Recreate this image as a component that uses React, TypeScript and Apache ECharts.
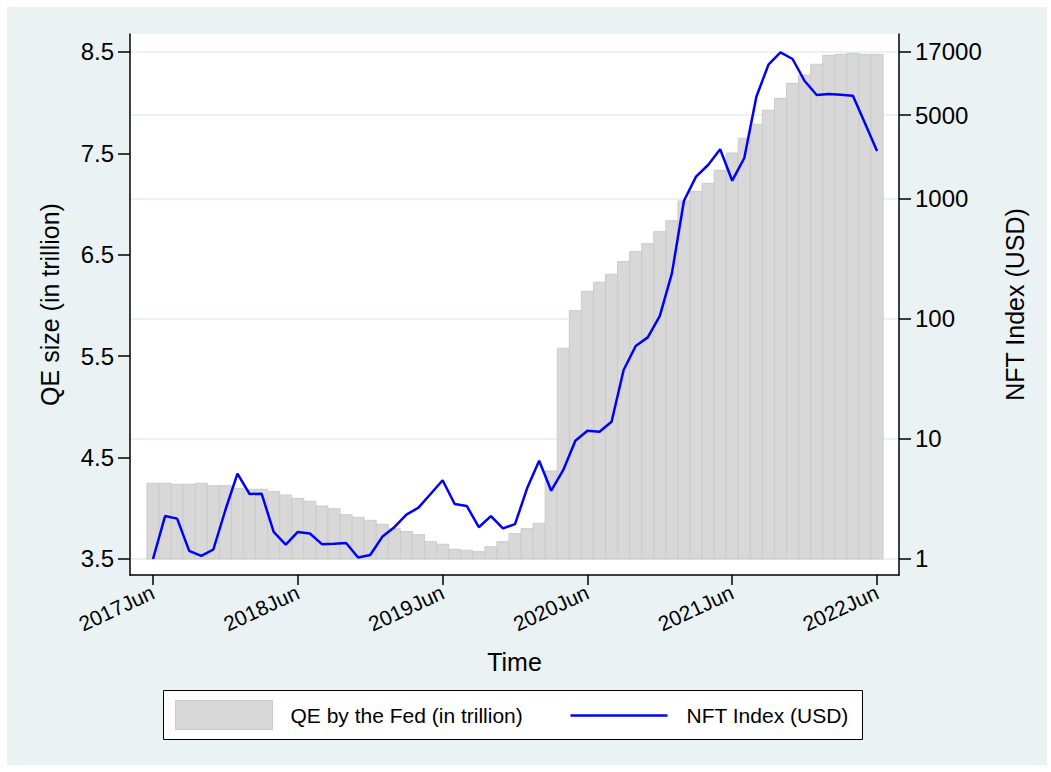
import React, { useEffect, useRef } from "react";
import * as echarts from "echarts";

// Monthly observations, June 2017 (index 0) through June 2022 (index 60)
const qeTrillion: number[] = [
  4.247, 4.247, 4.237, 4.237, 4.247, 4.223, 4.223, 4.197, 4.187, 4.187,
  4.164, 4.131, 4.098, 4.069, 4.023, 3.996, 3.937, 3.911, 3.881, 3.842,
  3.799, 3.770, 3.740, 3.671, 3.645, 3.596, 3.586, 3.572, 3.621, 3.671,
  3.750, 3.799, 3.852, 4.368, 5.578, 5.949, 6.140, 6.229, 6.308, 6.432,
  6.531, 6.610, 6.728, 6.837, 7.031, 7.126, 7.205, 7.333, 7.504, 7.649,
  7.787, 7.925, 8.043, 8.191, 8.273, 8.379, 8.467, 8.477, 8.487, 8.477,
  8.477,
];

const nftIndex: number[] = [
  1.0, 2.28, 2.17, 1.17, 1.06, 1.2, 2.56, 5.14, 3.48, 3.5,
  1.68, 1.32, 1.68, 1.63, 1.33, 1.34, 1.36, 1.03, 1.08, 1.53,
  1.84, 2.34, 2.68, 3.48, 4.53, 2.87, 2.77, 1.84, 2.28, 1.8,
  1.95, 3.88, 6.59, 3.71, 5.52, 9.68, 11.7, 11.5, 13.9, 37.6,
  59.6, 70.3, 106, 240, 968, 1535, 1920, 2596, 1421, 2197,
  7120, 13150, 16680, 14680, 9620, 7360, 7500, 7400, 7260, 4280,
  2510,
];

// Time axis ticks (month index) and their labels
const xTickMonths: number[] = [0, 12, 24, 36, 48, 60];
const xTickLabels: string[] = ["2017Jun", "2018Jun", "2019Jun", "2020Jun", "2021Jun", "2022Jun"];

// Left axis (QE) ticks and right axis (NFT, log) ticks
const qeTicks: number[] = [3.5, 4.5, 5.5, 6.5, 7.5, 8.5];
const nftTicks: number[] = [1, 10, 100, 1000, 5000, 17000];

// bars rise from this level of the QE axis
const QE_BASE = 3.5;

const FONT = "'Liberation Sans', Arial, Helvetica, sans-serif";
const OX = 7;
const OY = 7;
const W = 1040;
const H = 758;

const BAR_FILL = "#D8D8D8";
const BAR_EDGE = "#CBCBCB";

export default function App() {
  const ref = useRef<HTMLDivElement>(null);

  useEffect(() => {
    if (!ref.current) return;
    const chart = echarts.init(ref.current, undefined, { renderer: "svg" });

    const qeData = qeTrillion.map((v, i) => [i, v]);
    const nftData = nftIndex.map((v, i) => [i, v]);

    // plot area in page pixels
    const plotLeft = 130;
    const plotRight = 899;
    const plotTop = 34;
    const plotBottom = 575;

    const option: echarts.EChartsOption = {
      animation: false,
      backgroundColor: "transparent",
      textStyle: { fontFamily: FONT },
      grid: {
        show: true,
        backgroundColor: "#ffffff",
        borderWidth: 0,
        left: plotLeft - OX,
        right: W - (plotRight - OX),
        top: plotTop - OY,
        bottom: H - (plotBottom - OY),
        containLabel: false,
      },
      xAxis: {
        type: "value",
        min: -1.906,
        max: 61.82,
        name: "Time",
        nameLocation: "middle",
        nameGap: 74,
        nameTextStyle: { fontSize: 25, color: "#000", fontFamily: FONT },
        axisLine: { show: true, onZero: false, lineStyle: { color: "#000", width: 1.5 } },
        axisTick: { show: true, length: 10, customValues: xTickMonths, lineStyle: { color: "#000", width: 1.5 } },
        axisLabel: {
          customValues: xTickMonths,
          rotate: 25,
          margin: 16,
          fontSize: 21,
          color: "#000",
          fontFamily: FONT,
          formatter: (v: number) => xTickLabels[xTickMonths.indexOf(Math.round(v))] ?? "",
        },
        splitLine: { show: false },
      },
      yAxis: [
        {
          type: "value",
          position: "left",
          min: 3.3422,
          max: 8.6775,
          name: "QE size (in trillion)",
          nameLocation: "middle",
          nameGap: 68,
          nameTextStyle: { fontSize: 25, color: "#000", fontFamily: FONT },
          axisLine: { show: true, onZero: false, lineStyle: { color: "#000", width: 1.5 } },
          axisTick: { show: true, length: 12, customValues: qeTicks, lineStyle: { color: "#000", width: 1.5 } },
          axisLabel: {
            customValues: qeTicks,
            margin: 16,
            fontSize: 24,
            color: "#000",
            fontFamily: FONT,
            formatter: (v: number) => v.toFixed(1),
          },
          splitLine: { show: false },
        },
        {
          type: "log",
          position: "right",
          logBase: 10,
          min: 0.7356,
          max: 23714,
          name: "NFT Index (USD)",
          nameLocation: "middle",
          nameGap: 103,
          nameTextStyle: { fontSize: 25, color: "#000", fontFamily: FONT },
          axisLine: { show: true, onZero: false, lineStyle: { color: "#000", width: 1.5 } },
          axisTick: { show: true, length: 12, customValues: nftTicks, lineStyle: { color: "#000", width: 1.5 } },
          axisLabel: {
            customValues: nftTicks,
            margin: 16,
            fontSize: 24,
            color: "#000",
            fontFamily: FONT,
            formatter: (v: number) => String(Math.round(v)),
          },
          splitLine: { show: true, lineStyle: { color: "#EAF2F3", width: 2 } },
        },
      ],
      series: [
        {
          name: "QE by the Fed (in trillion)",
          type: "custom",
          xAxisIndex: 0,
          yAxisIndex: 0,
          data: qeData,
          encode: { x: 0, y: 1 },
          clip: true,
          renderItem: (_params: any, api: any) => {
            const m = api.value(0);
            const v = api.value(1);
            const top = api.coord([m, v]);
            const base = api.coord([m, QE_BASE]);
            const w = api.size([1, 0])[0];
            return {
              type: "rect",
              shape: { x: top[0] - w / 2, y: top[1], width: w, height: base[1] - top[1] },
              style: { fill: BAR_FILL, stroke: BAR_EDGE, lineWidth: 1 },
            };
          },
          z: 2,
        },
        {
          name: "NFT Index (USD)",
          type: "line",
          xAxisIndex: 0,
          yAxisIndex: 1,
          data: nftData,
          showSymbol: false,
          symbol: "none",
          lineStyle: { color: "#0000FF", width: 2.5 },
          z: 5,
        },
      ],
      graphic: [
        {
          type: "group",
          left: 163 - OX,
          top: 690 - OY,
          children: [
            {
              type: "rect",
              shape: { x: 0, y: 0, width: 699, height: 49 },
              style: { fill: "#ffffff", stroke: "#000000", lineWidth: 1 },
            },
            {
              type: "rect",
              shape: { x: 12, y: 10, width: 97, height: 29 },
              style: { fill: BAR_FILL, stroke: BAR_EDGE, lineWidth: 1 },
            },
            {
              type: "text",
              x: 127,
              y: 25,
              style: {
                text: "QE by the Fed (in trillion)",
                fontSize: 21,
                fontFamily: FONT,
                fill: "#000",
                verticalAlign: "middle",
              },
            },
            {
              type: "line",
              shape: { x1: 407, y1: 25, x2: 504, y2: 25 },
              style: { stroke: "#0000FF", lineWidth: 2.5 },
            },
            {
              type: "text",
              x: 523,
              y: 25,
              style: {
                text: "NFT Index (USD)",
                fontSize: 21,
                fontFamily: FONT,
                fill: "#000",
                verticalAlign: "middle",
              },
            },
          ],
        },
      ],
    };

    chart.setOption(option);
    return () => {
      chart.dispose();
    };
  }, []);

  return (
    <div
      style={{
        position: "absolute",
        left: OX,
        top: OY,
        width: W,
        height: H,
        background: "#EAF2F3",
      }}
    >
      <div ref={ref} style={{ width: W, height: H }} />
    </div>
  );
}
